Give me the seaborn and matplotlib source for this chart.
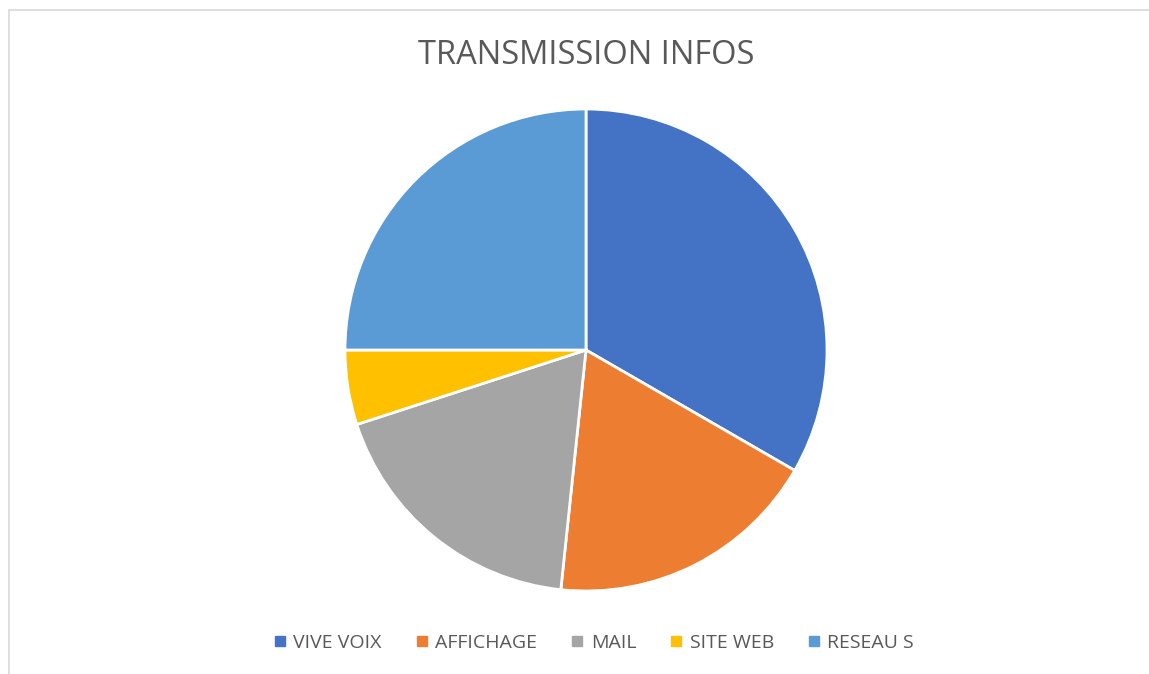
import matplotlib
matplotlib.use("Agg")
import matplotlib.pyplot as plt
import seaborn as sns
from matplotlib.lines import Line2D

sns.set_theme(style="white")
plt.rcParams['font.family'] = ['Open Sans', 'DejaVu Sans']

categories = ["VIVE VOIX", "AFFICHAGE", "MAIL", "SITE WEB", "RESEAU S"]
values = [20, 11, 11, 3, 15]
colors = ["#4472C4", "#ED7D31", "#A5A5A5", "#FFC000", "#5B9BD5"]

W, H = 1149, 674
fig = plt.figure(figsize=(W / 100, H / 100), dpi=100)
fig.patch.set_facecolor("white")

# chart border (left and top visible)
fig.add_artist(Line2D([9 / W, 9 / W], [0, 1 - 10 / H], color="#D9D9D9", lw=1.2))
fig.add_artist(Line2D([9 / W, 1], [1 - 10 / H, 1 - 10 / H], color="#D9D9D9", lw=1.2))

cx, cy, r = 586, 350, 241
ax = fig.add_axes([(cx - r) / W, 1 - (cy + r) / H, 2 * r / W, 2 * r / H])
wedges, _ = ax.pie(values, colors=colors, startangle=90, counterclock=False,
                   wedgeprops=dict(edgecolor="white", linewidth=2))
ax.set_xlim(-1.0, 1.0)
ax.set_ylim(-1.0, 1.0)
ax.set_aspect("equal")
ax.axis("off")

fig.text(586 / W, 1 - 55 / H, "TRANSMISSION INFOS", ha="center", va="center",
         fontsize=23.5, color="#595959")

handles = [Line2D([0], [0], marker="s", color="w", markerfacecolor=c,
                  markeredgecolor=c, markersize=6.5, linestyle="None") for c in colors]
fig.legend(handles, categories, loc="center", bbox_to_anchor=(592 / W, 1 - 643 / H),
           ncol=5, frameon=False, fontsize=14, labelcolor="#595959",
           handletextpad=0.2, columnspacing=1.55, handlelength=1.0)

fig.savefig("out.png", dpi=100)
